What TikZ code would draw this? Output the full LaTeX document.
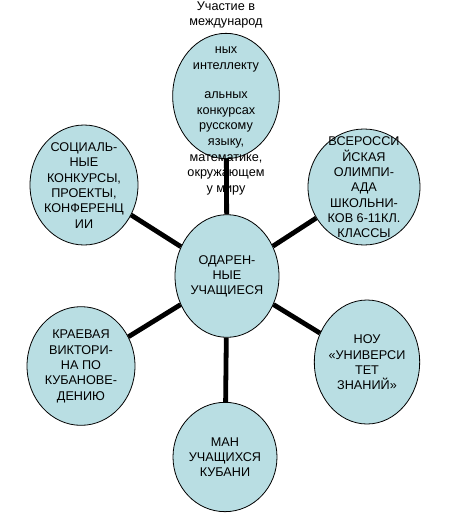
\documentclass[tikz,border=0pt]{standalone}
\usepackage{fontspec}
\setmainfont{Liberation Sans}
\usepackage{tikz}
\usetikzlibrary{shapes.geometric}
\definecolor{ovalfill}{HTML}{B9DEE3}

% text that may run past the oval border
\newcommand{\ovaltext}[1]{\smash{\makebox[0pt]{\raisebox{-0.5ex}{\parbox[c]{4cm}{\centering #1}}}}}

\begin{document}
\begin{tikzpicture}[
  x=0.75pt, y=-0.75pt,
  oval/.style={ellipse, draw=black, line width=0.6pt, fill=ovalfill,
               inner sep=0pt, font=\fontsize{9.5}{11.5}\selectfont},
  link/.style={line width=3.6pt, black},
]
  \useasboundingbox (0,0) rectangle (453,529);
  % Centre
  \node[oval, minimum width=78pt, minimum height=92pt] (pupils) at (227,276)
    {\ovaltext{ОДАРЕН-\\НЫЕ\\УЧАЩИЕСЯ}};
  % Surrounding ovals
  \node[oval, minimum width=80pt, minimum height=94pt,
        font=\fontsize{9.5}{11.8}\selectfont] (intl) at (226,96)
    {\raisebox{-3pt}{\ovaltext{Участие в\\международ\\[9pt]ных\\интеллекту\\[10pt]альных\\конкурсах\\русскому\\языку,\\математике,\\окружающем\\у миру}}};
  \node[oval, minimum width=81pt, minimum height=90pt] (social) at (84,185)
    {\ovaltext{СОЦИАЛЬ-\\НЫЕ\\КОНКУРСЫ,\\ПРОЕКТЫ,\\КОНФЕРЕНЦ\\ИИ}};
  \node[oval, minimum width=84pt, minimum height=87pt] (olymp) at (364,187)
    {\ovaltext{ВСЕРОССИ\\ЙСКАЯ\\ОЛИМПИ-\\АДА\\ШКОЛЬНИ-\\КОВ 6-11КЛ.\\КЛАССЫ}};
  \node[oval, minimum width=81pt, minimum height=89pt] (kraev) at (81,366)
    {\ovaltext{КРАЕВАЯ\\ВИКТОРИ-\\НА ПО\\КУБАНОВЕ-\\ДЕНИЮ}};
  \node[oval, minimum width=79pt, minimum height=93pt] (nou) at (367,362)
    {\ovaltext{НОУ\\«УНИВЕРСИ\\ТЕТ\\ЗНАНИЙ»}};
  \node[oval, minimum width=78pt, minimum height=82pt] (man) at (225,457)
    {\ovaltext{МАН\\УЧАЩИХСЯ\\КУБАНИ}};

  % Links
  \draw[link] (pupils) -- (intl);
  \draw[link] (pupils) -- (social);
  \draw[link] (pupils) -- (olymp);
  \draw[link] (pupils) -- (kraev);
  \draw[link] (pupils) -- (nou);
  \draw[link] (pupils) -- (man);
\end{tikzpicture}
\end{document}
